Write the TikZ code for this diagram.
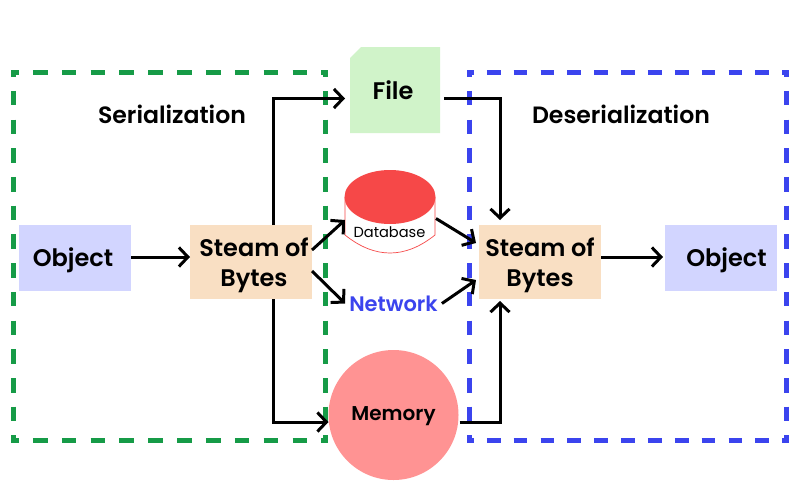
\documentclass[tikz,border=0pt]{standalone}
\usepackage{fontspec}
\setmainfont{Poppins}[BoldFont={Poppins SemiBold}]
\usetikzlibrary{arrows.meta}
\definecolor{gdash}{HTML}{169B47}
\definecolor{bdash}{HTML}{3B44EE}
\definecolor{objfill}{HTML}{D2D5FF}
\definecolor{stfill}{HTML}{F9DFC3}
\definecolor{filefill}{HTML}{D0F3C9}
\definecolor{dbred}{HTML}{F64848}
\definecolor{memfill}{HTML}{FF9393}
\newcommand\lowerby[2]{\raisebox{0pt}[\dimexpr\height+#1*2\relax]{#2}}
\tikzset{
  x=1pt,y=-1pt,
  zonev/.style={line width=5pt,dash pattern=on 14.6pt off 14.12pt,dash phase=7.9pt},
  zoneg/.style={line width=5pt,dash pattern=on 14.6pt off 14.24pt,dash phase=6.9pt},
  zoneb/.style={line width=5pt,dash pattern=on 13.7pt off 13.15pt,dash phase=7pt},
  box/.style={inner sep=0pt,outer sep=0pt,align=center,font=\fontsize{24}{30}\selectfont\bfseries},
  conn/.style={line width=3pt,-{Straight Barb[length=9pt,width=19pt,line width=3pt]}},
  title/.style={inner sep=0pt,font=\fontsize{23.6}{28}\selectfont\bfseries},
}
\begin{document}
\begin{tikzpicture}
\useasboundingbox (0,0) rectangle (800,480);
\fill[white] (0,0) rectangle (800,480);
% green frame
\draw[zoneg,gdash] (11,72.5) -- (327.8,72.5);
\draw[zoneg,gdash] (11,440.5) -- (327.8,440.5);
\draw[zonev,gdash] (13.5,70) -- (13.5,443);
\draw[zonev,gdash] (325.3,70) -- (325.3,443);
% blue frame
\draw[zoneb,bdash] (467,72.5) -- (789,72.5);
\draw[zoneb,bdash] (467,440.5) -- (789,440.5);
\draw[zonev,bdash] (469.6,70) -- (469.6,443);
\draw[zonev,bdash] (786.5,70) -- (786.5,443);
\node[title] (ser) at (172,114) {Serialization};
\node[title] (des) at (621,114) {Deserialization};
\node[box,fill=objfill,minimum width=112pt,minimum height=66pt] (objL) at (75,258) {\lowerby{2pt}{\hspace*{-4pt}Object}};
\node[box,fill=stfill,minimum width=122pt,minimum height=74pt] (stL) at (251,262) {\lowerby{3.5pt}{\hspace*{6pt}\begin{tabular}{@{}c@{}}Steam of\\Bytes\end{tabular}}};
\node[box,fill=stfill,minimum width=122pt,minimum height=74pt] (stR) at (540,262) {\lowerby{3.5pt}{\begin{tabular}{@{}c@{}}Steam of\\Bytes\end{tabular}}};
\node[box,fill=objfill,minimum width=112pt,minimum height=66pt] (objR) at (721,258) {\lowerby{2pt}{\hspace*{11pt}Object}};
\fill[filefill] (361,47) -- (440,47) -- (440,133) -- (350,133) -- (350,58) -- cycle;
\node[box,minimum width=90pt,minimum height=86pt] (file) at (395,90) {\hspace*{-4pt}File};
\draw[dbred,line width=0.7pt,fill=white] (345,197) -- (345,235) .. controls (360,247) and (375,253) .. (390,253) .. controls (405,253) and (420,247) .. (435,235) -- (435,197);
\fill[dbred] (390,197) ellipse [x radius=45.5,y radius=27];
\node[inner sep=0pt,font=\fontsize{14.6}{18}\selectfont] (db) at (389.5,232) {Database};
\node[inner sep=0pt,text=bdash,font=\fontsize{21}{24}\selectfont\bfseries] (net) at (393.5,303.5) {Network};
\node[circle,fill=memfill,minimum size=130pt,inner sep=0pt,outer sep=0pt,font=\fontsize{20}{24}\selectfont\bfseries] (mem) at (393.5,415) {\lowerby{1pt}{Memory}};
\coordinate (dbL) at (345,220);
\coordinate (dbR) at (436,218.5);
\draw[conn] ([yshift=1pt]objL.east) -- ([yshift=5pt]stL.west);
\draw[conn] ([xshift=22pt]stL.north) |- ([xshift=-5pt,yshift=-8.5pt]file.west);
\draw[conn] ([xshift=22pt]stL.south) |- ([yshift=-7pt]mem.west);
\draw[conn] ([yshift=12pt]stL.east) -- (dbL);
\draw[conn] ([yshift=-9pt]stL.east) -- ([xshift=-4pt]net.west);
\draw[conn] ([xshift=4pt,yshift=-8.5pt]file.east) -| ([xshift=-40pt,yshift=5pt]stR.north);
\draw[conn] (dbR) -- ([xshift=-3pt,yshift=19pt]stR.west);
\draw[conn] ([xshift=4pt]net.east) -- ([xshift=-3pt,yshift=-18pt]stR.west);
\draw[conn] ([xshift=1pt,yshift=-7pt]mem.east) -| ([xshift=-40pt,yshift=-2pt]stR.south);
\draw[conn] ([yshift=5pt]stR.east) -- ([xshift=-2pt,yshift=1pt]objR.west);
\end{tikzpicture}
\end{document}
